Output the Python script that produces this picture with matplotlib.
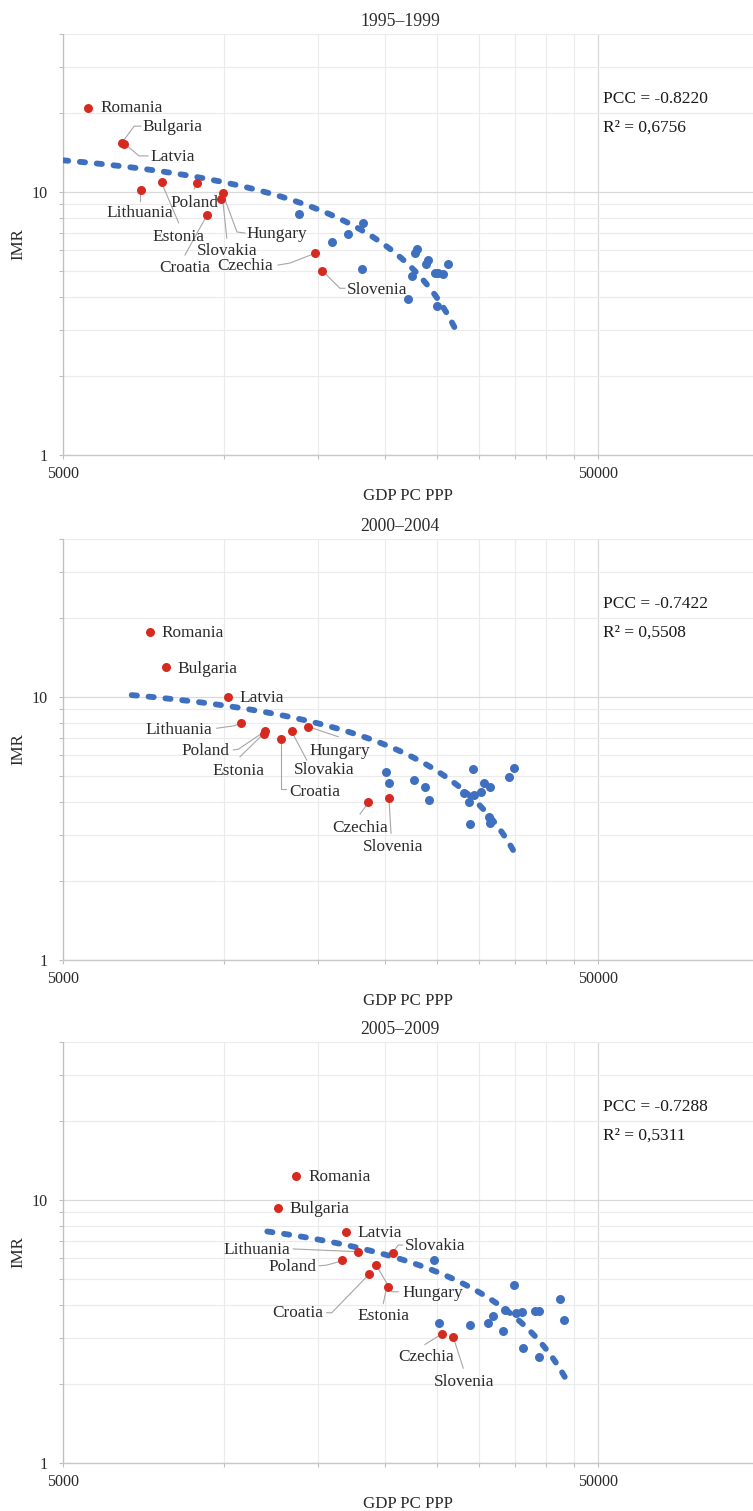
import matplotlib

matplotlib.use("Agg")

import matplotlib.pyplot as plt
import numpy as np
from matplotlib.ticker import FixedLocator, NullFormatter, FixedFormatter

plt.rcParams.update(
    {
        "font.family": ["Liberation Serif", "DejaVu Serif"],
        "font.size": 12.4,
        "text.color": "#2b2b2b",
        "axes.labelcolor": "#2b2b2b",
        "xtick.color": "#BFBFBF",
        "ytick.color": "#BFBFBF",
        "xtick.labelcolor": "#2b2b2b",
        "ytick.labelcolor": "#2b2b2b",
    }
)

COUNTRIES = ["Romania", "Bulgaria", "Latvia", "Lithuania", "Estonia", "Poland",
             "Hungary", "Slovakia", "Croatia", "Czechia", "Slovenia"]
TITLES = ["1995\u20131999", "2000\u20132004", "2005\u20132009"]

# 1995-1999
cee_gdp_95 = [5575, 6450, 6500, 7000, 7655, 8900, 9955, 9885, 9280, 14770, 15260]
cee_imr_95 = [20.9, 15.4, 15.2, 10.2, 10.9, 10.8, 9.94, 9.41, 8.18, 5.86, 5.01]
eu_gdp_95 = [13825, 15935, 17075, 18165, 18070, 22915, 22775, 24025, 23820, 22485,
             24795, 25115, 25690, 26250, 22045, 25040]
eu_imr_95 = [8.28, 6.44, 6.91, 7.60, 5.08, 6.06, 5.88, 5.51, 5.31, 4.79,
             4.93, 4.90, 4.88, 5.32, 3.91, 3.69]

# 2000-2004
cee_gdp_00 = [7270, 7800, 10160, 10755, 11890, 11930, 14370, 13380, 12780, 18610, 20340]
cee_imr_00 = [17.6, 13.0, 10.03, 7.99, 7.23, 7.45, 7.71, 7.45, 6.92, 3.98, 4.12]
eu_gdp_00 = [20035, 20340, 22650, 23750, 24165, 28085, 28700, 28860, 29235, 29325,
             30180, 30615, 31415, 31415, 34085, 34830, 31280]
eu_imr_00 = [5.17, 4.70, 4.84, 4.56, 4.06, 4.30, 4.00, 3.28, 5.32, 4.24,
             4.34, 4.70, 4.56, 3.33, 4.95, 5.36, 3.50]

# 2005-2009
cee_gdp_05 = [13630, 12595, 16880, 17770, 20225, 16635, 19210, 20665, 18665, 25545, 26750]
cee_imr_05 = [12.37, 9.32, 7.56, 6.33, 4.68, 5.91, 5.66, 6.27, 5.23, 3.09, 3.01]
eu_gdp_05 = [24685, 25190, 28830, 31105, 31785, 33265, 34875, 35125, 36095, 36250,
             38125, 38790, 38840, 42460, 43195, 33510]
eu_imr_05 = [5.91, 3.42, 3.35, 3.42, 3.63, 3.18, 4.75, 3.73, 3.76, 2.73,
             3.78, 3.78, 2.54, 4.19, 3.50, 3.82]

pcc_text = ["PCC = -0.8220", "PCC = -0.7422", "PCC = -0.7288"]
r2_text = ["R\u00b2 = 0,6756", "R\u00b2 = 0,5508", "R\u00b2 = 0,5311"]
trend_range = [(5000, 27250), (6720, 35480), (12045, 44140)]

# label placement: offset of text from its point in pixels (dx right, dy down),
# horizontal alignment, and the leader polyline as pixel offsets
LABELS = [
    {
        "Romania": (12, 0, "left", None),
        "Bulgaria": (20, -15.3, "left", [(1, -1.6), (12, -16.6), (18.7, -16.6)]),
        "Latvia": (26, 12.7, "left", [(2, 0.7), (15, 11.7), (24, 11.7)]),
        "Lithuania": (-1, 23, "center", [(-1, 3), (-1, 11.7)]),
        "Estonia": (16.5, 54.7, "center", [(1, 3.7), (16.7, 40.7)]),
        "Poland": (-3, 19.3, "center", [(-2.7, 5.6), (0, 0.6)]),
        "Hungary": (23, 41.3, "left", [(1, 4.3), (14, 39.3), (22, 40.3)]),
        "Slovakia": (5.7, 52, "center", [(1.4, 1), (5.4, 39)]),
        "Croatia": (-22, 53, "center", [(-0.7, 2), (-21.7, 40)]),
        "Czechia": (-41.7, 13, "right", [(-1.7, 1), (-24.7, 10), (-36.7, 12)]),
        "Slovenia": (24.7, 19, "left", [(1, 0.7), (17.7, 17.3), (22.7, 17.3)]),
    },
    {
        "Romania": (11.7, 1, "left", None),
        "Bulgaria": (11.4, 1.6, "left", None),
        "Latvia": (11.6, 1.6, "left", None),
        "Lithuania": (-28.7, 7.3, "right", [(-24.3, 5.6), (-8, 3.3), (-1, 1.3)]),
        "Estonia": (-25.5, 36.7, "center", [(-24.3, 22.7), (-1, 0)]),
        "Poland": (-35.7, 20, "right", [(-31.7, 19.3), (-26.7, 18.6), (-0.7, 1)]),
        "Hungary": (31, 24, "center", [(1, 0.3), (30, 10)]),
        "Slovakia": (32.1, 39.3, "center", [(0, 1), (15, 29.3)]),
        "Croatia": (8.3, 52.7, "left", [(0, 1), (0, 50.3), (5, 50.3)]),
        "Czechia": (-8.3, 26, "center", [(-1.6, 2.7), (-8.3, 11.7)]),
        "Slovenia": (4, 48.4, "center", [(0, 1), (2, 35)]),
    },
    {
        "Romania": (12.3, 1, "left", None),
        "Bulgaria": (11.6, 1.3, "left", None),
        "Latvia": (12, 1.3, "left", None),
        "Lithuania": (-67.7, -2.3, "right", [(-64.4, -3.3), (-1, -0.6)]),
        "Estonia": (-4.4, 29, "center", [(-4.4, 16.6), (-1, 0.6)]),
        "Poland": (-26.3, 6.7, "right", [(-23, 5.7), (-15.6, 5), (0, 0.7)]),
        "Hungary": (27, 28.3, "left", [(1, 1), (16, 26.7), (22.6, 26.7)]),
        "Slovakia": (12.3, -7.3, "left", [(0.6, -1.6), (5.6, -8.3), (10, -8.3)]),
        "Croatia": (-45.7, 39.3, "right", [(-42.3, 38.7), (-37.3, 38.7), (-0.7, 1)]),
        "Czechia": (-16, 22.7, "center", [(-17, 10.3), (-2, 1)]),
        "Slovenia": (11.8, 44.4, "center", [(0.6, 0), (10.6, 31)]),
    },
]

RED = "#D6291F"
BLUE = "#3E70BF"
LEADER = "#A6A6A6"
GRID_MINOR = "#EBEBEB"
GRID_MAJOR = "#D9D9D9"

W, H = 753, 1511
AX_LEFT = 63
AX_BOTTOMS = [455, 960, 1463]
AX_HEIGHT = 421.3
X_MAX = 5000 * 10 ** ((W - AX_LEFT) / 535)


def style_axis(ax):
    ax.set_xscale("log")
    ax.set_yscale("log")
    ax.set_xlim(5000, X_MAX)
    ax.set_ylim(1, 40)

    ax.xaxis.set_major_locator(FixedLocator([5000, 50000]))
    ax.xaxis.set_major_formatter(FixedFormatter(["5000", "50000"]))
    ax.xaxis.set_minor_locator(FixedLocator(np.arange(10000, 50000, 5000)))
    ax.xaxis.set_minor_formatter(NullFormatter())
    ax.yaxis.set_major_locator(FixedLocator([1, 10]))
    ax.yaxis.set_major_formatter(FixedFormatter(["1", "10"]))
    ax.yaxis.set_minor_locator(FixedLocator([2, 3, 4, 5, 6, 7, 8, 9, 20, 30, 40]))
    ax.yaxis.set_minor_formatter(NullFormatter())

    ax.tick_params(which="both", direction="out", length=3, width=0.8)
    ax.tick_params(axis="y", which="major", labelsize=11.6, pad=8)
    ax.tick_params(axis="x", which="major", labelsize=11.6, pad=5)

    ax.grid(True, which="minor", color=GRID_MINOR, linewidth=0.8)
    ax.grid(True, which="major", color=GRID_MAJOR, linewidth=0.9)
    ax.set_axisbelow(True)
    for side in ("top", "right"):
        ax.spines[side].set_visible(False)
    ax.spines["left"].set_color("#BFBFBF")
    ax.spines["bottom"].set_color("#C8C8C8")
    ax.spines["left"].set_linewidth(0.9)
    ax.spines["bottom"].set_linewidth(1.0)


def draw_label(ax, x, y, name, spec):
    dx, dy, ha, leader = spec
    base = ax.transData.transform((x, y))
    inv = ax.transData.inverted()
    if leader:
        pts = [inv.transform((base[0] + ox, base[1] - oy)) for ox, oy in leader]
        xs, ys = zip(*pts)
        ax.plot(xs, ys, color=LEADER, linewidth=0.8, zorder=2)
    ax.annotate(name, (x, y), xytext=(dx, -dy), textcoords="offset pixels",
                ha=ha, va="center", fontsize=12.4, color="#2b2b2b", zorder=5)


panels = [
    (cee_gdp_95, cee_imr_95, eu_gdp_95, eu_imr_95),
    (cee_gdp_00, cee_imr_00, eu_gdp_00, eu_imr_00),
    (cee_gdp_05, cee_imr_05, eu_gdp_05, eu_imr_05),
]

fig = plt.figure(figsize=(W / 100, H / 100), dpi=100)
fig.patch.set_facecolor("white")

for i, (cg, ci, eg, ei) in enumerate(panels):
    bottom = (H - AX_BOTTOMS[i]) / H
    ax = fig.add_axes([AX_LEFT / W, bottom, (W - AX_LEFT) / W, AX_HEIGHT / H])
    style_axis(ax)

    # linear OLS trend of IMR on GDP, shown on the log-log axes
    gdp_all = np.array(cg + eg, dtype=float)
    imr_all = np.array(ci + ei, dtype=float)
    coef = np.polyfit(gdp_all, imr_all, 1)
    lo, hi = trend_range[i]
    tx = np.geomspace(lo, hi, 300)
    ax.plot(tx, np.polyval(coef, tx), color=BLUE, linewidth=4.2,
            dashes=(0.9, 2.0), dash_capstyle="round", zorder=3)

    ax.scatter(eg, ei, s=42, color=BLUE, linewidths=0, zorder=4)
    ax.scatter(cg, ci, s=42, color=RED, linewidths=0, zorder=4)

    for name, x, y in zip(COUNTRIES, cg, ci):
        draw_label(ax, x, y, name, LABELS[i][name])

    ax.text(0.7826, 0.846, pcc_text[i], transform=ax.transAxes, ha="left",
            va="center", fontsize=12.5, color="#1a1a1a")
    ax.text(0.7826, 0.776, r2_text[i], transform=ax.transAxes, ha="left",
            va="center", fontsize=12.5, color="#1a1a1a")

    ax.text((400 - AX_LEFT) / (W - AX_LEFT), 1 + 12 / AX_HEIGHT, TITLES[i],
            transform=ax.transAxes, ha="center", va="center", fontsize=12.7,
            color="#2b2b2b")
    ax.text(0.5, -41 / AX_HEIGHT, "GDP PC PPP", transform=ax.transAxes,
            ha="center", va="center", fontsize=12.2, color="#2b2b2b")
    ax.text(-45 / (W - AX_LEFT), 0.5, "IMR", transform=ax.transAxes,
            ha="center", va="center", rotation=90, fontsize=12.2, color="#2b2b2b")

fig.savefig("out.png", dpi=100)
